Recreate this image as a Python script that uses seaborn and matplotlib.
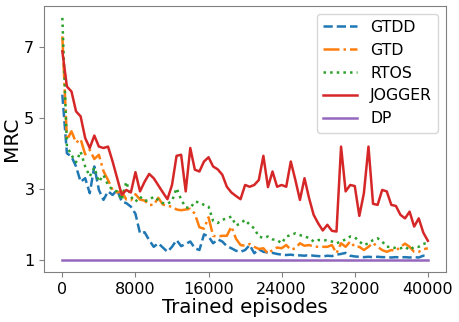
import numpy as np
import pandas as pd
import seaborn as sns
import matplotlib
matplotlib.use('Agg')
import matplotlib.pyplot as plt

episodes = list(range(0, 40001, 500))

gtdd = [5.65, 4.0, 3.91, 3.63, 3.2, 3.3, 2.88, 3.63, 2.97, 2.69,
        2.93, 2.83, 2.97, 2.64, 2.6, 2.5, 2.3, 1.75, 1.78, 1.56,
        1.37, 1.47, 1.35, 1.23, 1.37, 1.56, 1.39, 1.45, 1.52, 1.33,
        1.28, 1.72, 1.66, 1.47, 1.58, 1.52, 1.39, 1.33, 1.26, 1.23,
        1.28, 1.42, 1.19, 1.3, 1.23, 1.21, 1.2, 1.17, 1.15, 1.14,
        1.15, 1.13, 1.13, 1.12, 1.14, 1.12, 1.11, 1.1, 1.12, 1.11,
        1.15, 1.17, 1.2, 1.12, 1.1, 1.09, 1.08, 1.09, 1.08, 1.09,
        1.08, 1.08, 1.07, 1.08, 1.07, 1.08, 1.07, 1.08, 1.07, 1.12,
        1.1]

gtd = [7.29, 4.38, 4.62, 4.3, 4.4, 3.97, 4.1, 3.84, 3.96, 3.5,
       3.25, 2.97, 2.9, 2.93, 2.7, 2.68, 2.85, 2.7, 2.67, 2.55,
       2.55, 2.75, 2.56, 2.52, 2.5, 2.42, 2.4, 2.42, 2.44, 2.3,
       1.92, 1.88, 2.2, 1.68, 1.66, 1.68, 1.68, 1.94, 1.6, 1.42,
       1.4, 1.45, 1.37, 1.31, 1.33, 1.18, 1.28, 1.35, 1.33, 1.42,
       1.29, 1.33, 1.47, 1.4, 1.42, 1.38, 1.37, 1.37, 1.37, 1.42,
       1.19, 1.47, 1.37, 1.52, 1.37, 1.37, 1.28, 1.37, 1.48, 1.37,
       1.28, 1.23, 1.28, 1.26, 1.37, 1.46, 1.37, 1.23, 1.23, 1.3,
       1.33]

rtos = [7.81, 4.2, 3.95, 3.75, 4.05, 3.63, 3.35, 3.6, 3.2, 3.39,
        3.11, 2.97, 2.93, 2.69, 3.2, 2.78, 2.64, 2.78, 2.66, 2.69,
        2.78, 2.69, 2.6, 2.58, 2.66, 3.02, 2.7, 2.48, 2.46, 2.64,
        2.62, 2.55, 2.5, 2.1, 2.04, 2.13, 2.17, 2.22, 1.97, 2.03,
        2.13, 1.99, 1.89, 1.66, 1.62, 1.66, 1.58, 1.56, 1.47, 1.66,
        1.7, 1.75, 1.7, 1.66, 1.62, 1.52, 1.56, 1.56, 1.55, 1.52,
        1.47, 1.52, 1.58, 1.66, 1.64, 1.52, 1.42, 1.47, 1.56, 1.61,
        1.52, 1.37, 1.37, 1.33, 1.33, 1.37, 1.28, 1.37, 1.37, 1.45,
        1.49]

jogger = [6.87, 5.88, 5.74, 5.18, 5.04, 4.43, 4.15, 4.5, 4.19, 4.15,
          4.19, 3.77, 3.3, 2.83, 2.97, 2.9, 3.47, 2.93, 3.2, 3.42,
          3.3, 3.1, 2.9, 2.71, 3.11, 3.93, 3.96, 2.93, 4.15, 3.54,
          3.49, 3.77, 3.89, 3.63, 3.55, 3.4, 3.06, 2.9, 2.8, 2.71,
          3.11, 3.06, 3.11, 3.25, 3.93, 3.05, 3.49, 3.06, 3.11, 3.06,
          3.77, 3.25, 2.69, 3.3, 2.74, 2.27, 2.03, 1.83, 1.99, 1.82,
          1.8, 4.19, 2.93, 3.11, 3.08, 2.24, 2.88, 4.19, 2.58, 2.55,
          2.97, 2.93, 2.55, 2.52, 2.27, 2.17, 2.36, 1.94, 2.17, 1.77,
          1.54]

dp = [1.0] * len(episodes)

methods = ['GTDD', 'GTD', 'RTOS', 'JOGGER', 'DP']
values = [gtdd, gtd, rtos, jogger, dp]
styles = ['--', '-.', ':', '-', '-']
colors = ['tab:blue', 'tab:orange', 'tab:green', 'tab:red', 'tab:purple']

fig = plt.figure(figsize=(4.59, 3.22), dpi=100)
ax = fig.add_axes([0.096, 0.155, 0.876, 0.827])

for name, vals, ls, c in zip(methods, values, styles, colors):
    df = pd.DataFrame({'episodes': episodes, 'MRC': vals})
    sns.lineplot(data=df, x='episodes', y='MRC', ax=ax, label=name,
                 linestyle=ls, color=c, linewidth=1.8)

ax.set_xticks([0, 8000, 16000, 24000, 32000, 40000])
ax.set_yticks([1, 3, 5, 7])
ax.tick_params(labelsize=11.5, color='0.5')
for s in ax.spines.values():
    s.set_color('0.5')
ax.set_xlabel('Trained episodes', fontsize=14.2, labelpad=1)
ax.set_ylabel('MRC', fontsize=14.5, labelpad=2)
ax.legend(loc='upper right', fontsize=11.3, handlelength=2.2)

plt.savefig('out.png', dpi=100)
